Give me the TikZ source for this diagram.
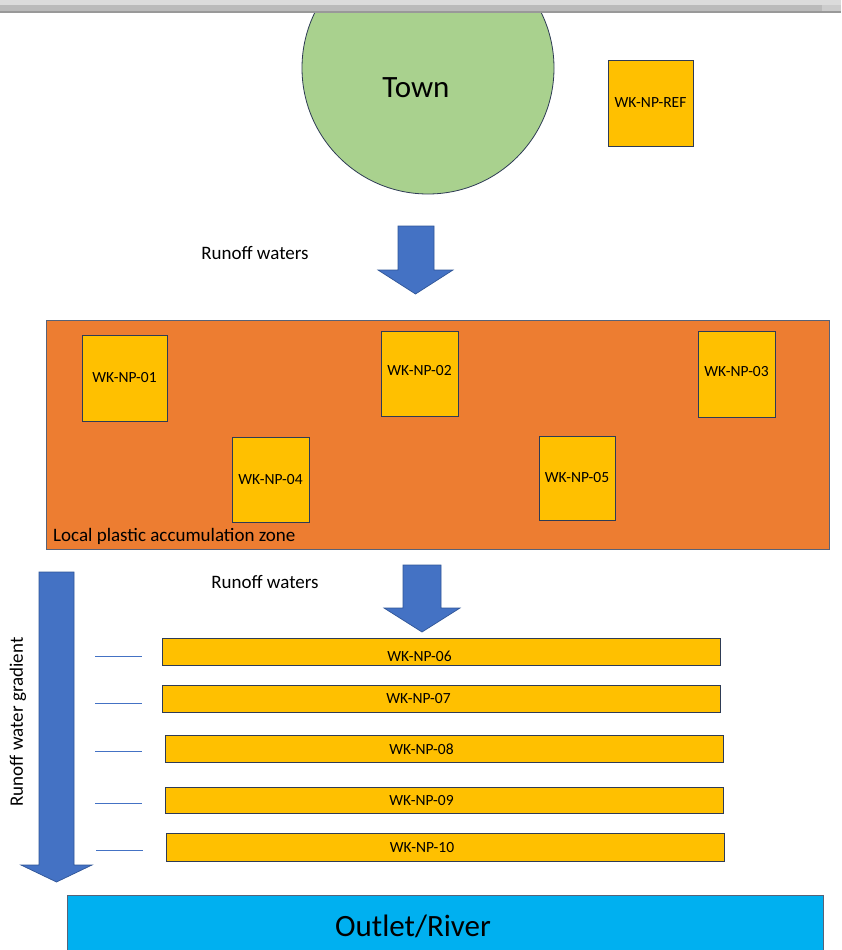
\documentclass[tikz,border=0pt]{standalone}
\usepackage{fontspec}
\setmainfont{Carlito}
\begin{document}
\begin{tikzpicture}[x=1pt,y=-1pt,
  sbox/.style={draw=boxline, line width=0.8pt, fill=gold, inner sep=0pt, font=\fontsize{15.5}{17}\selectfont},
  strip/.style={draw=boxline, line width=0.8pt, fill=gold, inner sep=0pt},
  striplbl/.style={inner sep=0pt, font=\fontsize{15.5}{17}\selectfont},
  barrow/.style={fill=arrowblue, draw=arrowedge, line width=0.7pt},
  tick/.style={draw=arrowblue, line width=0.8pt},
  lbl/.style={inner sep=0pt, font=\fontsize{19}{21}\selectfont}]
\definecolor{gold}{HTML}{FFC000}
\definecolor{boxline}{HTML}{2E3B55}
\definecolor{arrowblue}{HTML}{4472C4}
\definecolor{arrowedge}{HTML}{2F5597}
\definecolor{zone}{HTML}{ED7D31}
\definecolor{towngreen}{HTML}{A9D18E}
\definecolor{river}{HTML}{00B0F0}
\useasboundingbox (0,0) rectangle (841,950);
\clip (0,0) rectangle (841,950);
\fill[white] (0,0) rectangle (841,950);
% town
\begin{scope}
\clip (0,12) rectangle (841,950);
\node[circle, draw=boxline, line width=0.8pt, fill=towngreen, minimum size=252pt, inner sep=0pt] (town) at (428,68) {};
\end{scope}
\node[inner sep=0pt, anchor=base, font=\fontsize{31}{33}\selectfont] (townlabel) at (416,97.5) {Town};
% top bar
\fill[black!14] (0,0) rectangle (841,5);
\fill[black!27] (0,5) rectangle (841,11);
\fill[black!40] (0,11) rectangle (841,13);
\fill[black!20] (822,5) rectangle (841,11);
% reference box
\node[sbox, minimum width=85pt, minimum height=86pt] (ref) at (650.5,103) {WK-NP-REF};
% arrow 1
\draw[barrow] (398,226) -- (434,226) -- (434,270) -- (453,270) -- (415.5,294) -- (378,270) -- (398,270) -- cycle;
\node[lbl, anchor=base] (run1) at (255,259) {Runoff waters};
% zone
\node[draw=boxline!80, line width=0.8pt, fill=zone, minimum width=783pt, minimum height=229pt, inner sep=0pt] (zonebox) at (437.5,434.5) {};
\node[lbl, anchor=base west] (zonelabel) at (53,541.5) {Local plastic accumulation zone};
\node[sbox, minimum width=85pt, minimum height=86pt] (b01) at (124.5,378) {WK-NP-01};
\node[sbox, minimum width=77pt, minimum height=85pt] (b02) at (419.5,373.5) {\raisebox{6pt}{WK-NP-02}};
\node[sbox, minimum width=77pt, minimum height=86pt] (b03) at (736.5,374) {\raisebox{5pt}{WK-NP-03}};
\node[sbox, minimum width=77pt, minimum height=85pt] (b04) at (270.5,479.5) {\raisebox{-3pt}{WK-NP-04}};
\node[sbox, minimum width=76pt, minimum height=84pt] (b05) at (577,478) {\raisebox{-3.5pt}{WK-NP-05}};
% arrow 2
\draw[barrow] (403,565) -- (441,565) -- (441,608) -- (460,608) -- (422,632) -- (384,608) -- (403,608) -- cycle;
\node[lbl, anchor=base] (run2) at (265,588) {Runoff waters};
% gradient arrow
\draw[barrow] (39,572) -- (74,572) -- (74,865) -- (92,865) -- (56.5,882) -- (21,865) -- (39,865) -- cycle;
\node[lbl, rotate=90] (gradlabel) at (18,722) {Runoff water gradient};
% strips
\node[strip, minimum width=558pt, minimum height=27pt] (s06) at (441,651.5) {};
\node[strip, minimum width=558pt, minimum height=27pt] (s07) at (441,698.5) {};
\node[strip, minimum width=558pt, minimum height=27pt] (s08) at (444,748.5) {};
\node[strip, minimum width=558pt, minimum height=26pt] (s09) at (444,800) {};
\node[strip, minimum width=558pt, minimum height=28pt] (s10) at (445,847) {};
\node[striplbl] (l06) at (419.5,656) {WK-NP-06};
\node[striplbl] (l07) at (418.5,698.5) {WK-NP-07};
\node[striplbl] (l08) at (421.5,749) {WK-NP-08};
\node[striplbl] (l09) at (421.5,801) {WK-NP-09};
\node[striplbl] (l10) at (422,847.5) {WK-NP-10};
% ticks
\coordinate (t06a) at (95,656); \coordinate (t06b) at (142,656);
\coordinate (t07a) at (95,703); \coordinate (t07b) at (142,703);
\coordinate (t08a) at (95,751); \coordinate (t08b) at (142,751);
\coordinate (t09a) at (95,803); \coordinate (t09b) at (142,803);
\coordinate (t10a) at (96,850); \coordinate (t10b) at (143,850);
\draw[tick] (t06a) -- (t06b);
\draw[tick] (t07a) -- (t07b);
\draw[tick] (t08a) -- (t08b);
\draw[tick] (t09a) -- (t09b);
\draw[tick] (t10a) -- (t10b);
% river
\fill[river] (67,895) rectangle (823,951);
\draw[boxline!80, line width=0.8pt] (67,951) -- (67,895) -- (823,895) -- (823,951);
\node[inner sep=0pt, anchor=base, font=\fontsize{31}{33}\selectfont] (river) at (413,936) {Outlet/River};
\end{tikzpicture}
\end{document}
